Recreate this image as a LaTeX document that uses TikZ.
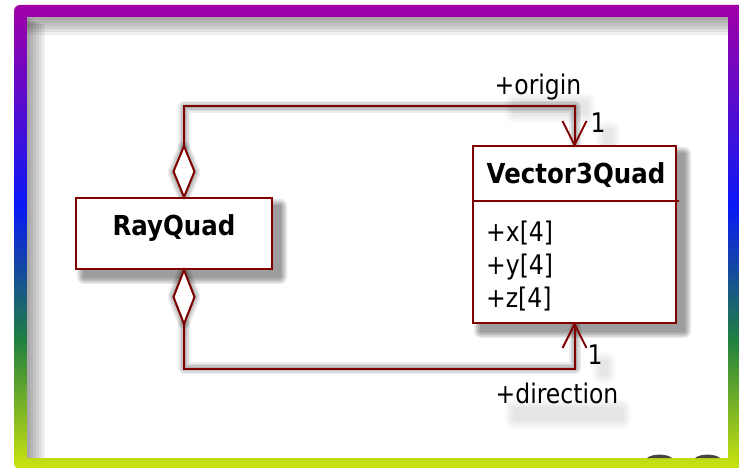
\documentclass[tikz,border=0pt]{standalone}
\usepackage{fontspec}
\setmainfont{DejaVu Sans}
\newfontfamily\umlfont{DejaVu Sans}[FakeStretch=0.87]
\newfontfamily\umlbold{DejaVu Sans Bold}[FakeStretch=0.89]
\usetikzlibrary{calc}

\definecolor{umlred}{RGB}{128,0,0}
\definecolor{fpurple}{RGB}{162,0,166}
\definecolor{fblue}{RGB}{10,24,248}
\definecolor{fgreen}{RGB}{32,128,64}
\definecolor{fyellow}{RGB}{204,228,14}
\definecolor{bumpgray}{RGB}{70,70,70}

\begin{document}
\begin{tikzpicture}[x=1pt,y=-1pt,
  classbox/.style={draw=umlred, line width=2pt, fill=white, rectangle, inner sep=0pt},
  conn/.style={draw=umlred, line width=2pt, line join=miter},
  csh/.style={draw=black, line join=round, line cap=round},
  lbl/.style={font=\umlfont\fontsize{27}{32}\selectfont, inner sep=0pt, anchor=base},
  ttl/.style={font=\umlbold\fontsize{27.5}{32}\selectfont, inner sep=0pt, anchor=base},
  attr/.style={font=\umlfont\fontsize{27}{32}\selectfont, inner sep=0pt, anchor=base west},
]
\useasboundingbox (0,0) rectangle (739,468);

% ---------- gradient frame ----------
\fill[white] (0,0) rectangle (739,468);
\begin{scope}
  \clip[rounded corners=6pt] (14,5) rectangle (750,469);
  \shade[top color=fpurple, bottom color=fblue] (14,5) rectangle (739,205.5);
  \shade[top color=fblue, bottom color=fgreen] (14,205) rectangle (739,340.5);
  \shade[top color=fgreen, bottom color=fyellow] (14,340) rectangle (739,469);
\end{scope}
\fill[white] (27,17) rectangle (728,458);
% inner shade along the top and left edges, built from stacked translucent strips
\foreach \e in {3,6,9,12,15,18} {
  \fill[black, opacity=0.065] (27,17) rectangle (728,17+\e);
  \fill[black, opacity=0.065] (27,17+\e*0.4) rectangle (27+\e,458);
}
% two dark domes peeking above the bottom edge
\fill[bumpgray] (647,458) .. controls (652,453.5) and (667,453.5) .. (672,458) -- cycle;
\fill[bumpgray] (695,458) .. controls (700,453.5) and (715,453.5) .. (720,458) -- cycle;

% ---------- layout points ----------
\coordinate (rqC) at (174,233.5);
\coordinate (vqC) at (574.5,234.5);
\coordinate (shA) at (184,198);     % diamond tip on top of RayQuad
\coordinate (shAt) at (184,147);
\coordinate (shB) at (184,269.5);   % diamond tip below RayQuad
\coordinate (shBb) at (184,323.5);
\coordinate (shN) at (575,146);     % Vector3Quad top
\coordinate (shNr) at (575,107);
\coordinate (shS) at (575,323);     % Vector3Quad bottom
\coordinate (shSr) at (575,368);

% ---------- soft shadows ----------
\begin{scope}[shift={(12,13)}]
  \foreach \w/\o in {12/0.07, 9/0.08, 6/0.09, 3/0.10} {
    \draw[csh, line width=\w pt, opacity=\o] (shAt) |- (shNr) -- (shN);
    \draw[csh, line width=\w pt, opacity=\o] (shBb) |- (shSr) -- (shS);
    \filldraw[csh, line width=\w pt, opacity=\o] (shA) -- ++(-10.5,-25.5) -- ++(10.5,-25.5) -- ++(10.5,25.5) -- cycle;
    \filldraw[csh, line width=\w pt, opacity=\o] (shB) -- ++(-10.5,27) -- ++(10.5,27) -- ++(10.5,-27) -- cycle;
  }
\end{scope}
\foreach \e in {7,5.5,4,2.5,1} {
  \fill[black, opacity=0.09, rounded corners=\e pt]
    ($(76,198)+(8-\e,8-\e)$) rectangle ($(272,269)+(8+\e,8+\e)$);
  \fill[black, opacity=0.09, rounded corners=\e pt]
    ($(473,146)+(8-\e,8-\e)$) rectangle ($(676,323)+(8+\e,8+\e)$);
}
% faint blurred shadows under the labels
\foreach \cx/\cy/\hw/\hh in {550/108/36/6, 568/414/54/6, 608/137/3/7, 604/368/3/7} {
  \foreach \e in {9,7,5,3,1} {
    \fill[black, opacity=0.018, rounded corners=\e pt]
      (\cx-\hw-\e,\cy-\hh-\e) rectangle (\cx+\hw+\e,\cy+\hh+\e);
  }
}

% ---------- classes ----------
\node[classbox, minimum width=196pt, minimum height=71pt] (rq) at (rqC) {};
\node[ttl] (rqt) at ($(rq.center)+(0,1.5)$) {RayQuad};

\node[classbox, minimum width=203pt, minimum height=177pt] (vq) at (vqC) {};
\node[ttl] (vqt) at (576,183) {Vector3Quad};
\draw[conn] (vq.west |- 0,201) -- ($(vq.east |- 0,201)+(2,0)$);
\node[attr] (ax) at (486,241) {+x[4]};
\node[attr] (ay) at (486,274) {+y[4]};
\node[attr] (az) at (486,307) {+z[4]};

% ---------- associations ----------
\coordinate (dA) at ($(rq.north)+(10,0)$);
\coordinate (dAtop) at ($(dA)+(0,-51)$);
\coordinate (dB) at ($(rq.south)+(10,0)$);
\coordinate (dBbot) at ($(dB)+(0,54)$);
\coordinate (topRun) at ($(vq.north)+(0,-39)$);
\coordinate (botRun) at ($(vq.south)+(0,45)$);

\draw[conn] (dAtop) |- (topRun) -- (vq.north);
\draw[conn, fill=white] (dA) -- ++(-10.5,-25.5) -- ++(10.5,-25.5) -- ++(10.5,25.5) -- cycle;
\draw[conn] ($(vq.north)+(-12,-24)$) -- (vq.north) -- ($(vq.north)+(12,-24)$);

\draw[conn] (dBbot) |- (botRun) -- (vq.south);
\draw[conn, fill=white] (dB) -- ++(-10.5,27) -- ++(10.5,27) -- ++(10.5,-27) -- cycle;
\draw[conn] ($(vq.south)+(-12,24)$) -- (vq.south) -- ($(vq.south)+(12,24)$);

% ---------- role names and multiplicities ----------
\node[lbl] (origin) at (538,95) {+origin};
\node[lbl] (m1) at (598,133) {1};
\node[lbl] (m2) at (595,364) {1};
\node[lbl] (direction) at (557,403) {+direction};
\end{tikzpicture}
\end{document}
